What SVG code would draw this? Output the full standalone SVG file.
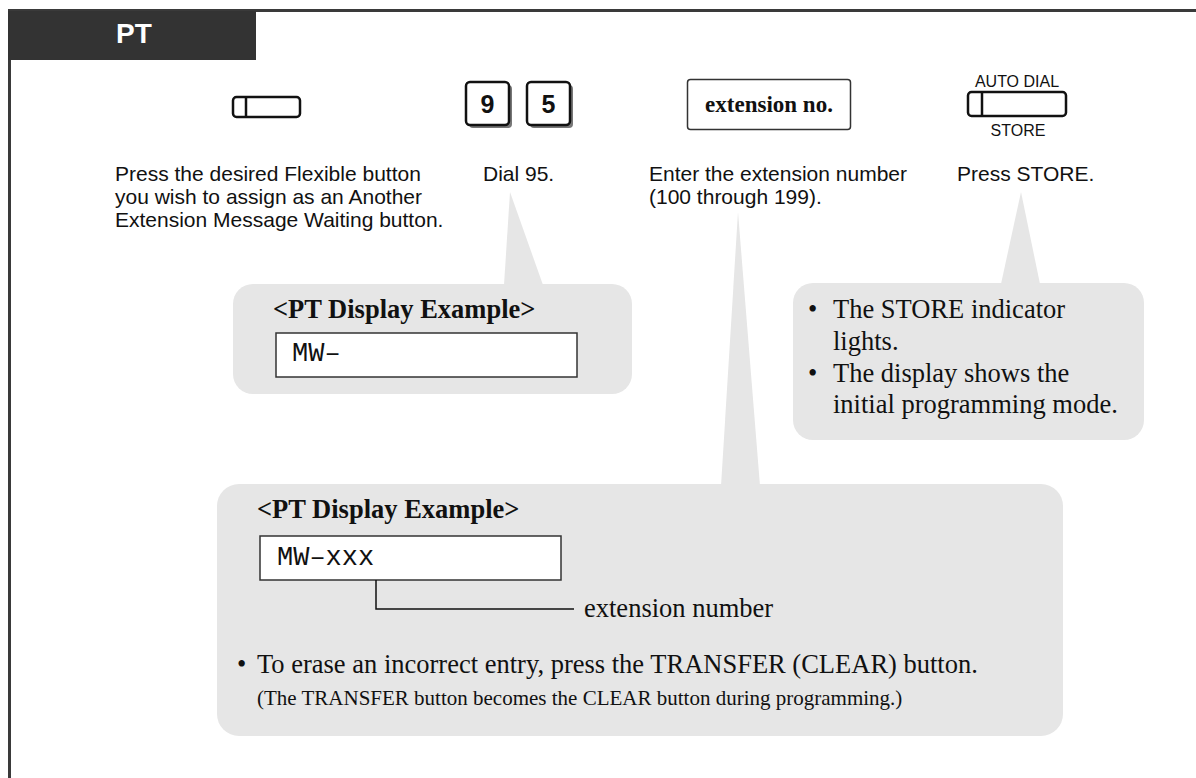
<svg xmlns="http://www.w3.org/2000/svg" width="1196" height="778" viewBox="0 0 1196 778">
<defs>
<style>
.sans{font-family:"Liberation Sans",Arial,sans-serif;fill:#111}
.serif{font-family:"Liberation Serif","Times New Roman",serif;fill:#111}
.mono{font-family:"Liberation Mono","Courier New",monospace;fill:#111}
.desc{font-size:21px}
.bub{fill:#e6e6e6}
.btn{fill:#fff;stroke:#111;stroke-width:2.5}
.disp{fill:#fff;stroke:#333;stroke-width:1.5}
.body{font-size:26.5px}
.hdr{font-size:26.5px;font-weight:bold}
</style>
</defs>
<rect width="1196" height="778" fill="#fff"/>
<g id="frame">
<line x1="8" y1="10.5" x2="1196" y2="10.5" stroke="#3a3a3a" stroke-width="3"/>
<line x1="9.5" y1="10" x2="9.5" y2="778" stroke="#3a3a3a" stroke-width="3"/>
<rect x="8" y="11" width="248" height="49" fill="#333"/>
<text x="116" y="43" class="sans" style="fill:#fff;font-size:28px;font-weight:bold">PT</text>
</g>
<g id="step1">
<rect x="233" y="97" width="67" height="20" rx="3.5" class="btn"/>
<line x1="246" y1="97" x2="246" y2="117" stroke="#111" stroke-width="2.5"/>
<text class="sans desc" x="115"><tspan x="115" y="181">Press the desired Flexible button</tspan><tspan x="115" y="204">you wish to assign as an Another</tspan><tspan x="115" y="227">Extension Message Waiting button.</tspan></text>
</g>
<g id="step2">
<rect x="469" y="85" width="43" height="43" rx="4" fill="#777"/>
<rect x="466" y="82" width="43" height="43" rx="4" class="btn"/>
<text x="487.5" y="113" class="sans" text-anchor="middle" style="font-size:25px;font-weight:bold">9</text>
<rect x="530" y="85" width="43" height="43" rx="4" fill="#777"/>
<rect x="527" y="82" width="43" height="43" rx="4" class="btn"/>
<text x="548.5" y="113" class="sans" text-anchor="middle" style="font-size:25px;font-weight:bold">5</text>
<text x="483" y="181" class="sans desc">Dial 95.</text>
</g>
<g id="step3">
<rect x="687.5" y="79.5" width="163" height="50" rx="3" fill="#fff" stroke="#333" stroke-width="1.5"/>
<text x="769" y="112" class="serif" text-anchor="middle" style="font-size:23px;font-weight:bold">extension no.</text>
<text class="sans desc"><tspan x="649" y="181">Enter the extension number</tspan><tspan x="649" y="204">(100 through 199).</tspan></text>
</g>
<g id="step4">
<text x="1017" y="87" class="sans" text-anchor="middle" style="font-size:16px">AUTO DIAL</text>
<rect x="968" y="92" width="98" height="24" rx="3.5" class="btn"/>
<line x1="982" y1="92" x2="982" y2="116" stroke="#111" stroke-width="2.5"/>
<text x="1018" y="136" class="sans" text-anchor="middle" style="font-size:16px">STORE</text>
<text x="957" y="181" class="sans desc">Press STORE.</text>
</g>
<g id="callout-dial">
<polygon points="510,192 543,285 504,285" class="bub"/>
<rect x="233" y="284" width="399" height="110" rx="20" class="bub"/>
<text x="273" y="318" class="serif hdr">&lt;PT Display Example&gt;</text>
<rect x="276" y="333" width="301" height="44" class="disp"/>
<text x="292" y="361" class="mono" style="font-size:27px">MW–</text>
</g>
<g id="callout-store">
<polygon points="1021,192 1040,284 1001,284" class="bub"/>
<rect x="793" y="283" width="351" height="157" rx="20" class="bub"/>
<text class="serif body"><tspan x="808" y="318">•</tspan><tspan x="833" y="318">The STORE indicator</tspan><tspan x="833" y="350">lights.</tspan><tspan x="808" y="382">•</tspan><tspan x="833" y="382">The display shows the</tspan><tspan x="833" y="413">initial programming mode.</tspan></text>
</g>
<g id="callout-ext">
<polygon points="738,212 760,486 721,486" class="bub"/>
<rect x="217" y="484" width="846" height="252" rx="22" class="bub"/>
<text x="257" y="518" class="serif hdr">&lt;PT Display Example&gt;</text>
<rect x="260" y="536" width="301" height="44" class="disp"/>
<text x="277" y="565" class="mono" style="font-size:27px">MW–xxx</text>
<text x="584" y="617" class="serif body">extension number</text>
<text class="serif body"><tspan x="237" y="673">•</tspan><tspan x="257" y="673">To erase an incorrect entry, press the TRANSFER (CLEAR) button.</tspan></text>
<text x="257" y="705" class="serif" style="font-size:21px">(The TRANSFER button becomes the CLEAR button during programming.)</text>
</g>
<g id="connectors">
<polyline points="376,580 376,609 574,609" fill="none" stroke="#111" stroke-width="1.5"/>
</g>
</svg>
